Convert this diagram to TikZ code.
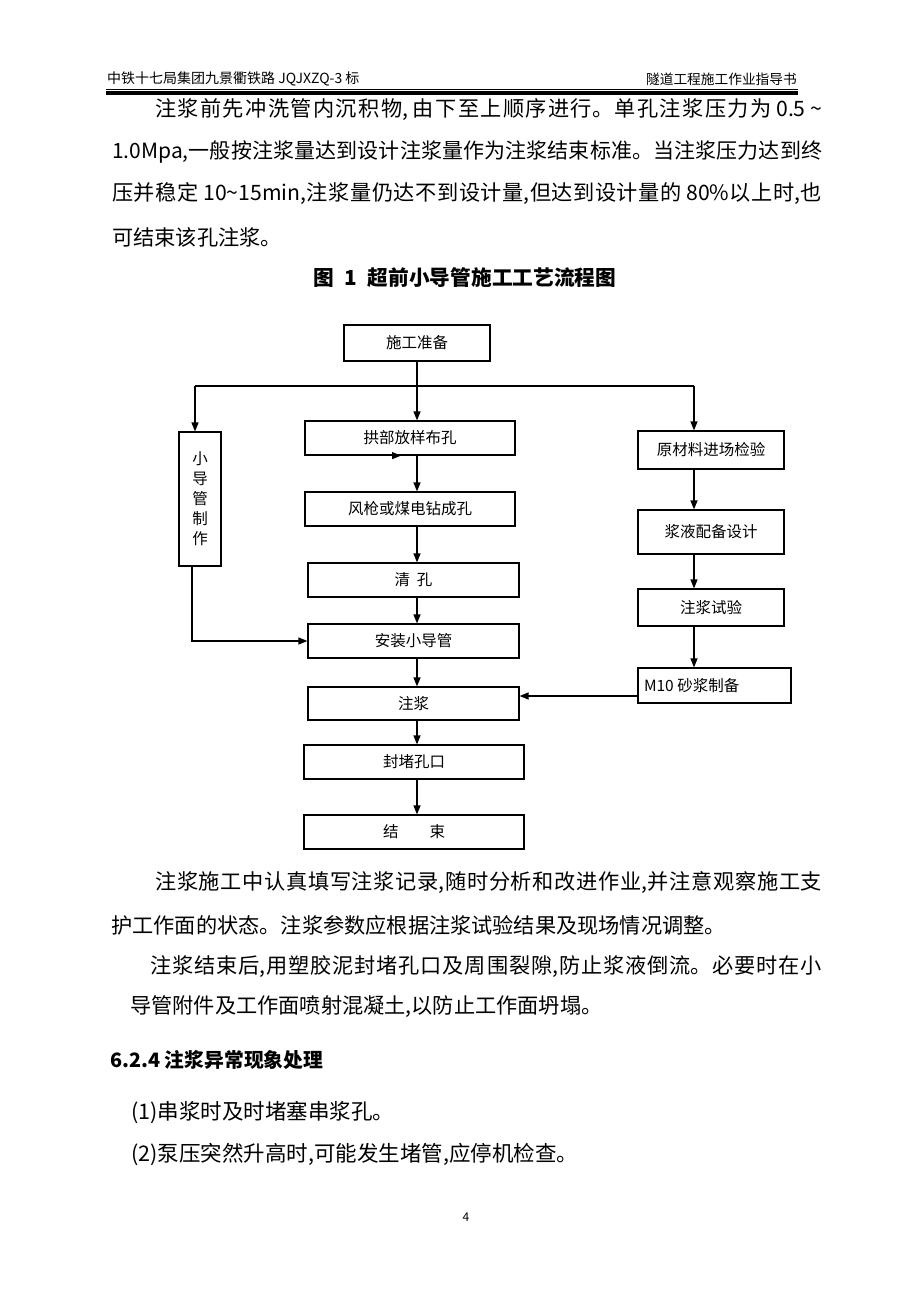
\documentclass[tikz,border=0pt]{standalone}
\usepackage{fontspec}
\setmainfont{Noto Sans CJK SC}
\XeTeXlinebreaklocale "zh"
\XeTeXlinebreakskip=0pt plus 1fil minus 1pt
\usetikzlibrary{arrows.meta}
\newcommand{\fs}[1]{\fontsize{#1}{#1}\selectfont}
\newcommand{\fullline}[2]{\parbox{#1pt}{\parfillskip=0pt #2}}
\tikzset{
	line/.style={anchor=west, inner sep=0pt, font=\fs{21.2}},
	box/.style={draw, line width=1.2pt, inner sep=0pt, font=\fs{15.5}},
	flow/.style={line width=1.2pt, -{Triangle[length=9pt,width=7pt]}}
}
\begin{document}
\begin{tikzpicture}[x=1pt, y=-1pt]
	\useasboundingbox (0,0) rectangle (920,1302);
	% header
	\node[anchor=west, inner sep=0pt, font=\fs{14}] (hl) at (107,79) {中铁十七局集团九景衢铁路 JQJXZQ-3 标};
	\node[anchor=east, inner sep=0pt, font=\fs{13.7}] (hr) at (797,79) {隧道工程施工作业指导书};
	\draw[line width=0.8pt] (106,89) -- (798,89);
	\draw[line width=4pt] (106,93) -- (798,93);
	% text above the chart
	\node[line] (p1a) at (155,110) {\fullline{667}{注浆前先冲洗管内沉积物, 由下至上顺序进行。单孔注浆压力为 0.5 \textasciitilde}};
	\node[line, font=\fs{21}] (p1b) at (112,152) {\fullline{710}{1.0Mpa,一般按注浆量达到设计注浆量作为注浆结束标准。当注浆压力达到终}};
	\node[line] (p1c) at (112,194) {\fullline{710}{压并稳定 10\textasciitilde15min,注浆量仍达不到设计量,但达到设计量的 80\%以上时,也}};
	\node[line] (p1d) at (112,237) {可结束该孔注浆。};
	\node[inner sep=0pt, font=\fs{20.7}\bfseries] (title) at (465,278) {图\enspace 1\enspace 超前小导管施工工艺流程图};
	% flow chart
	\node[box, minimum width=146, minimum height=36] (prep) at (417,343) {施工准备};
	\node[box, minimum width=210, minimum height=34] (arch) at (410,438) {拱部放样布孔};
	\node[box, minimum width=210, minimum height=34] (drill) at (410,509) {风枪或煤电钻成孔};
	\node[box, minimum width=211, minimum height=34] (clean) at (413.5,580) {清\ \ 孔};
	\node[box, minimum width=211, minimum height=34] (install) at (413.5,641) {安装小导管};
	\node[box, minimum width=211, minimum height=33] (grout) at (413.5,703.5) {注浆};
	\node[box, minimum width=220, minimum height=34] (seal) at (414,762) {封堵孔口};
	\node[box, minimum width=220, minimum height=34] (finish) at (414,832) {结\hspace{2em}束};
	\node[box, minimum width=42, minimum height=134, align=center, font=\fontsize{15.5}{20}\selectfont] (pipe) at (200,499) {小\\导\\管\\制\\作};
	\node[box, minimum width=146, minimum height=38] (raw) at (711,450) {原材料进场检验};
	\node[box, minimum width=146, minimum height=44] (mix) at (711,532) {浆液配备设计};
	\node[box, minimum width=146, minimum height=37] (test) at (711,607.5) {注浆试验};
	\node[box, minimum width=153, minimum height=35] (mortar) at (714.5,685.5) {\makebox[141pt][l]{M10 砂浆制备}};
	\coordinate (bl) at (195,386);
	\coordinate (br) at (694,386);
	\draw[line width=1.2pt] (bl) -- (br);
	\draw[flow] (prep) -- (prep |- arch.north);
	\draw[flow] (bl) -- (bl |- pipe.north);
	\draw[flow] (br) -- (br |- raw.north);
	\draw[flow] ([xshift=-20pt]arch.south) -- ([xshift=-9pt]arch.south);
	\draw[flow] (prep |- arch.south) -- (prep |- drill.north);
	\draw[flow] (prep |- drill.south) -- (prep |- clean.north);
	\draw[flow] (prep |- clean.south) -- (prep |- install.north);
	\draw[flow] (prep |- install.south) -- (prep |- grout.north);
	\draw[flow] (prep |- grout.south) -- (prep |- seal.north);
	\draw[flow] (prep |- seal.south) -- (prep |- finish.north);
	\draw[flow] ([xshift=-8pt]pipe.south) -- ([xshift=-8pt]pipe.south |- install.west) -- (install.west);
	\draw[flow] (br |- raw.south) -- (br |- mix.north);
	\draw[flow] (br |- mix.south) -- (br |- test.north);
	\draw[flow] (br |- test.south) -- (br |- mortar.north);
	\draw[flow] ([yshift=-10.5pt]mortar.west) -- ([yshift=-10.5pt]mortar.west -| grout.east);
	% text below the chart
	\node[line] (p2a) at (155,883) {\fullline{667}{注浆施工中认真填写注浆记录,随时分析和改进作业,并注意观察施工支}};
	\node[line] (p2b) at (111,925) {护工作面的状态。注浆参数应根据注浆试验结果及现场情况调整。};
	\node[line] (p3a) at (150,967) {\fullline{672}{注浆结束后,用塑胶泥封堵孔口及周围裂隙,防止浆液倒流。必要时在小}};
	\node[line] (p3b) at (130,1007) {导管附件及工作面喷射混凝土,以防止工作面坍塌。};
	\node[line, font=\fs{19.8}\bfseries] (sec) at (110,1060) {6.2.4 注浆异常现象处理};
	\node[line, font=\fs{21.5}] (it1) at (131,1112) {(1)串浆时及时堵塞串浆孔。};
	\node[line, font=\fs{21.5}] (it2) at (131,1154) {(2)泵压突然升高时,可能发生堵管,应停机检查。};
	\node[inner sep=0pt, font=\fs{12}] (page) at (466,1217) {4};
\end{tikzpicture}
\end{document}
